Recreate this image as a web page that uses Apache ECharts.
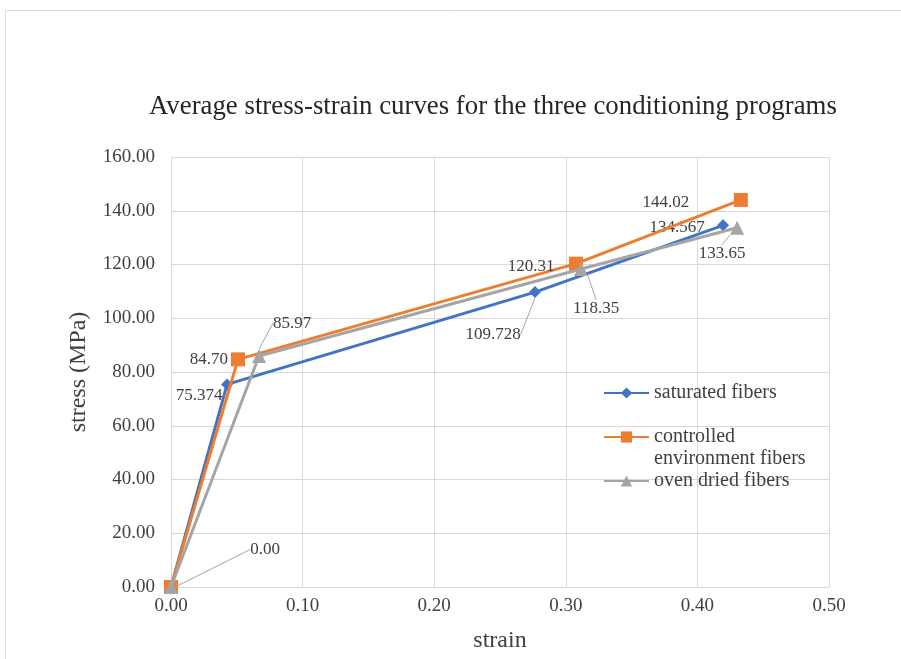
<!DOCTYPE html>
<html><head><meta charset="utf-8">
<script src="https://cdn.jsdelivr.net/npm/echarts@6/dist/echarts.min.js"></script>
<style>html,body{margin:0;padding:0;background:#fff}#c{width:901px;height:659px}</style>
</head><body><div id="c"></div>
<script>
const seriesNames = ['saturated fibers', 'controlled environment fibers', 'oven dried fibers'];
const saturatedStrain = [0, 0.0426, 0.2766, 0.4195];
const saturatedStress = [0, 75.374, 109.728, 134.567];
const controlledStrain = [0, 0.0509, 0.3078, 0.4330];
const controlledStress = [0, 84.70, 120.31, 144.02];
const ovenStrain = [0, 0.0669, 0.3116, 0.4302];
const ovenStress = [0, 85.97, 118.35, 133.65];
const saturatedLabels = [null, '75.374', '109.728', '134.567'];
const controlledLabels = [null, '84.70', '120.31', '144.02'];
const ovenLabels = ['0.00', '85.97', '118.35', '133.65'];
const xTicks = [0, 0.1, 0.2, 0.3, 0.4, 0.5];
const yTicks = [0, 20, 40, 60, 80, 100, 120, 140, 160];

const FONT = '"Liberation Serif", "Times New Roman", serif';
const TXT = '#404040';

// label moves [dx, dy, leaderLine]
const moves = [
  [null, [-28, 31, false], [-42, 62, true], [-46, 22, false]],
  [null, [-29, 21, false], [-45, 23, false], [-75, 23, false]],
  [[94, -17, true], [33, -12, true], [15, 60, true], [-15, 46, true]]
];

const chart = echarts.init(document.getElementById('c'));

function mkData(si, xs, ys, texts) {
  return xs.map((x, i) => {
    const t = texts[i];
    const m = moves[si][i];
    return {
      value: [x, ys[i]],
      label: t ? {show: true, position: 'top', fontFamily: FONT, fontSize: 17, color: TXT, formatter: () => t} : {show: false},
      labelLine: {show: !!(m && m[2]), lineStyle: {color: '#A5A5A5', width: 1}}
    };
  });
}

function layoutFn(si) {
  return function (params) {
    const m = moves[si][params.dataIndex];
    return m ? {dx: m[0], dy: m[1]} : {};
  };
}

const colors = ['#4472C4', '#ED7D31', '#A5A5A5'];
const symbols = ['diamond', 'rect', 'triangle'];
const symSizes = [12, 14, 14];
const dataSets = [
  mkData(0, saturatedStrain, saturatedStress, saturatedLabels),
  mkData(1, controlledStrain, controlledStress, controlledLabels),
  mkData(2, ovenStrain, ovenStress, ovenLabels)
];

const series = seriesNames.map((n, si) => ({
  name: n,
  type: 'line',
  data: dataSets[si],
  symbol: symbols[si],
  symbolSize: symSizes[si],
  showAllSymbol: true,
  lineStyle: {width: 3, color: colors[si]},
  itemStyle: {color: colors[si]},
  labelLayout: layoutFn(si),
  labelLine: {show: true, lineStyle: {color: '#A5A5A5', width: 1}},
  z: 2 + si,
  animation: false
}));

function mkLegend(name, top, fmt) {
  return {
    data: [name], left: 603, top: top, orient: 'vertical',
    itemWidth: 45, itemHeight: 14, itemGap: 0, padding: 0,
    formatter: fmt || undefined,
    textStyle: {fontFamily: FONT, fontSize: 20, color: TXT, lineHeight: 22}
  };
}

chart.setOption({
  animation: false,
  color: colors,
  title: {
    text: 'Average stress-strain curves for the three conditioning programs',
    left: 144, top: 88,
    textStyle: {fontFamily: FONT, fontSize: 26.8, fontWeight: 'normal', color: '#262626'}
  },
  graphic: [{
    type: 'rect', shape: {x: 5.5, y: 10.5, width: 1000, height: 1000},
    style: {fill: 'none', stroke: '#D9D9D9', lineWidth: 1}, silent: true, z: -10
  }],
  legend: [
    mkLegend(seriesNames[0], 382),
    mkLegend(seriesNames[1], 404, () => ' \ncontrolled\nenvironment fibers'),
    mkLegend(seriesNames[2], 470)
  ],
  grid: {left: 171, right: 72, top: 157, bottom: 72},
  xAxis: {
    type: 'value', min: xTicks[0], max: xTicks[xTicks.length - 1], interval: 0.1,
    name: 'strain', nameLocation: 'middle', nameGap: 42,
    nameTextStyle: {fontFamily: FONT, fontSize: 24, color: TXT},
    axisLine: {show: true, lineStyle: {color: '#D9D9D9'}},
    axisTick: {show: false},
    axisLabel: {fontFamily: FONT, fontSize: 19, color: TXT, margin: 10, formatter: v => v.toFixed(2)},
    splitLine: {show: true, lineStyle: {color: '#D9D9D9'}}
  },
  yAxis: {
    type: 'value', min: yTicks[0], max: yTicks[yTicks.length - 1], interval: 20,
    name: 'stress (MPa)', nameLocation: 'middle', nameGap: 80, nameRotate: 90,
    nameTextStyle: {fontFamily: FONT, fontSize: 24, color: TXT},
    axisLine: {show: true, lineStyle: {color: '#D9D9D9'}},
    axisTick: {show: false},
    axisLabel: {fontFamily: FONT, fontSize: 19, color: TXT, margin: 16, formatter: v => v.toFixed(2)},
    splitLine: {show: true, lineStyle: {color: '#D9D9D9'}}
  },
  series: series
});
</script></body></html>
